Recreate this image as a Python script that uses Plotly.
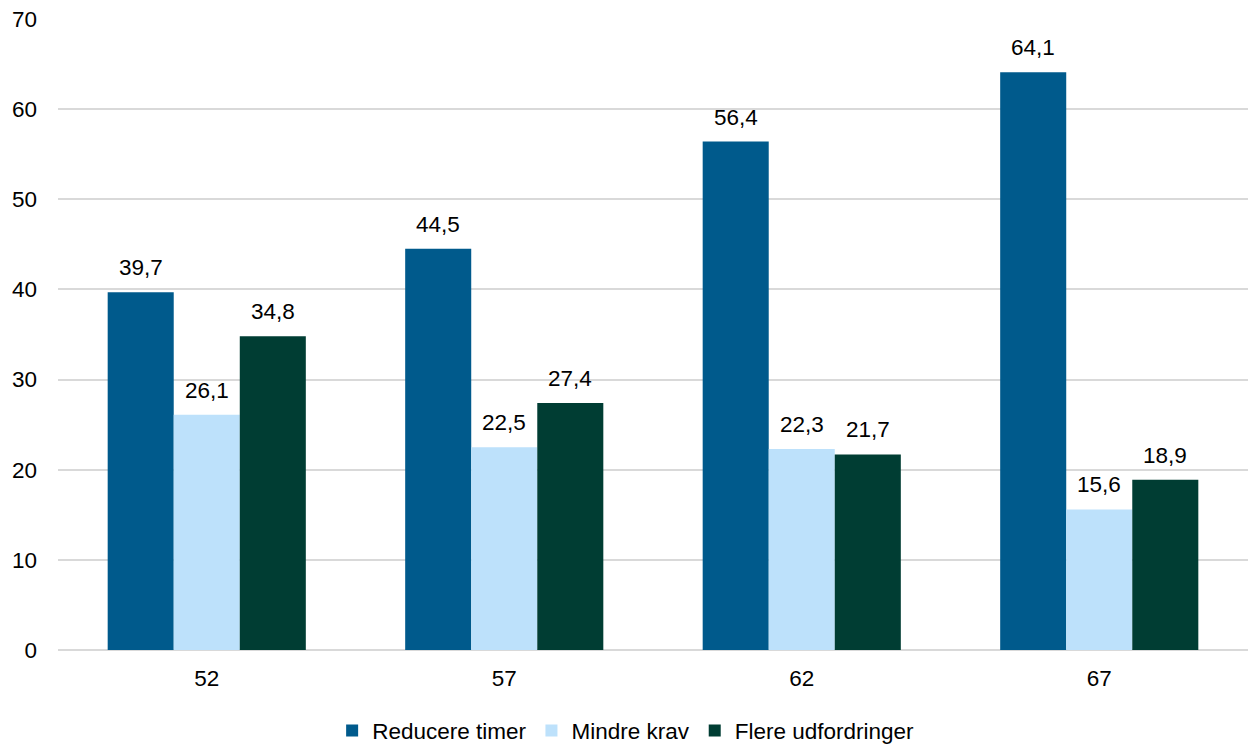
import plotly.graph_objects as go

categories = ["52", "57", "62", "67"]
reducere_timer = [39.7, 44.5, 56.4, 64.1]
mindre_krav = [26.1, 22.5, 22.3, 15.6]
flere_udfordringer = [34.8, 27.4, 21.7, 18.9]
series_names = ["Reducere timer", "Mindre krav", "Flere udfordringer"]
colors = ["#005A8C", "#BDE1FB", "#003D33"]
y_ticks = [0, 10, 20, 30, 40, 50, 60, 70]

series = [reducere_timer, mindre_krav, flere_udfordringer]
font = "Liberation Sans, Arial, sans-serif"
fsize = 22.5


def fmt(v):
    return f"{v:.1f}".replace(".", ",")


fig = go.Figure()
for name, vals, col in zip(series_names, series, colors):
    fig.add_trace(go.Bar(
        x=categories, y=vals, name=name,
        marker=dict(color=col, line=dict(width=0)),
        hoverinfo="skip",
    ))

# value labels above each bar (x given as category index)
bar_px = 66
annotations = []
for i, vals in enumerate(series):
    for j, v in enumerate(vals):
        annotations.append(dict(
            x=j, y=v, xref="x", yref="y",
            text=fmt(v), showarrow=False,
            xshift=(i - 1) * bar_px, yshift=10, yanchor="bottom",
            font=dict(family=font, size=fsize, color="#000000"),
        ))

fig.update_layout(
    width=1250, height=747,
    margin=dict(l=58, r=2, t=19, b=97, autoexpand=False),
    paper_bgcolor="white", plot_bgcolor="white",
    barmode="group", bargap=0.334, bargroupgap=0,
    font=dict(family=font, size=fsize, color="#000000"),
    showlegend=True,
    legend=dict(orientation="h", x=0.477, xanchor="center", y=-0.128, yanchor="middle",
                font=dict(family=font, size=fsize, color="#000000"),
                itemwidth=30, traceorder="normal"),
    annotations=annotations,
    separators=", ",
)
fig.update_xaxes(type="category", range=[-0.5, len(categories) - 0.5],
                 showgrid=False, showline=False, zeroline=False,
                 ticks="", ticklabelstandoff=12,
                 tickfont=dict(family=font, size=fsize, color="#000000"))
fig.update_yaxes(range=[0, 70], tickvals=y_ticks, showgrid=True,
                 gridcolor="#D9D9D9", gridwidth=1.5,
                 zeroline=True, zerolinecolor="#D9D9D9", zerolinewidth=1.5,
                 showline=False, ticks="", ticklabelstandoff=20,
                 tickfont=dict(family=font, size=fsize, color="#000000"))

fig.write_html("out.html")
